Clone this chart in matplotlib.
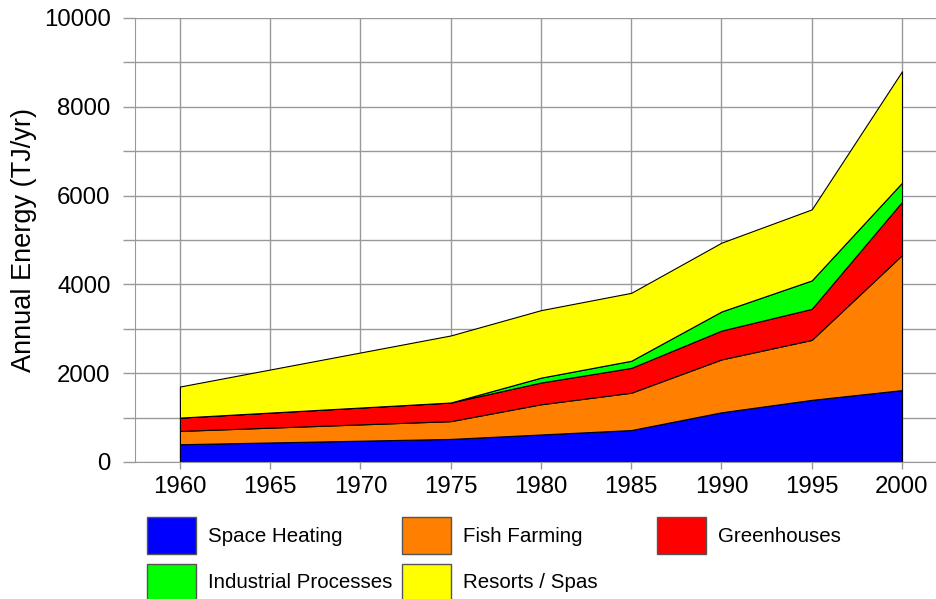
import matplotlib.pyplot as plt
from matplotlib.patches import Rectangle

# Dati (TJ/yr)
years = [1960, 1975, 1980, 1985, 1990, 1995, 2000]
space_heating = [400, 520, 620, 720, 1120, 1400, 1620]
fish_farming = [300, 400, 680, 840, 1190, 1350, 3040]
greenhouses = [300, 420, 490, 560, 650, 700, 1200]
industrial = [0, 0, 110, 160, 430, 640, 430]
resorts = [700, 1510, 1520, 1530, 1550, 1600, 2510]

labels = ['Space Heating', 'Fish Farming', 'Greenhouses',
          'Industrial Processes', 'Resorts / Spas']
colors = ['#0000ff', '#ff8000', '#ff0000', '#00ff00', '#ffff00']

plt.rcParams['font.family'] = ['Liberation Sans', 'DejaVu Sans']

W, H = 937, 599
fig = plt.figure(figsize=(W / 100, H / 100), dpi=100)
ax = fig.add_axes([135 / W, 1 - 462 / H, (W - 135) / W, 444 / H])

ax.stackplot(years, space_heating, fish_farming, greenhouses, industrial, resorts,
             colors=colors, edgecolor='black', linewidth=0.8)

ax.set_xlim(1957.51, 2001.94)
ax.set_ylim(0, 10000)
ax.set_xticks(range(1960, 2001, 5))
ax.set_yticks(range(0, 10001, 2000))
ax.set_yticks(range(1000, 10000, 2000), minor=True)

grid_col = '#999999'
ax.xaxis.grid(True, which='major', color=grid_col, linewidth=1)
ax.yaxis.grid(True, which='both', color=grid_col, linewidth=1)
ax.set_axisbelow(True)

ax.tick_params(axis='y', which='both', direction='out', length=8.6, width=1,
               color=grid_col, pad=9, labelsize=17.3)
ax.tick_params(axis='x', direction='out', length=5, width=1,
               color=grid_col, pad=5, labelsize=17.3)
for s in ['top', 'right']:
    ax.spines[s].set_visible(False)
for s in ['left', 'bottom']:
    ax.spines[s].set_color(grid_col)

ax.set_ylabel('Annual Energy (TJ/yr)', fontsize=19.5, va='center')
ax.yaxis.set_label_coords((24 - 135) / (W - 135), 0.5)

# Legenda a griglia fissa sotto il grafico
for i, (lab, col) in enumerate(zip(labels, colors)):
    row, c = divmod(i, 3)
    x0 = 147 + c * 255
    yc = 535 + row * 47
    fig.add_artist(Rectangle((x0 / W, 1 - (yc + 18.5) / H), 49 / W, 37 / H,
                             facecolor=col, edgecolor='#555555', linewidth=1,
                             transform=fig.transFigure))
    fig.text((x0 + 61) / W, 1 - (yc + 1) / H, lab, fontsize=14.8,
             ha='left', va='center')

fig.savefig('out.png', dpi=100)
